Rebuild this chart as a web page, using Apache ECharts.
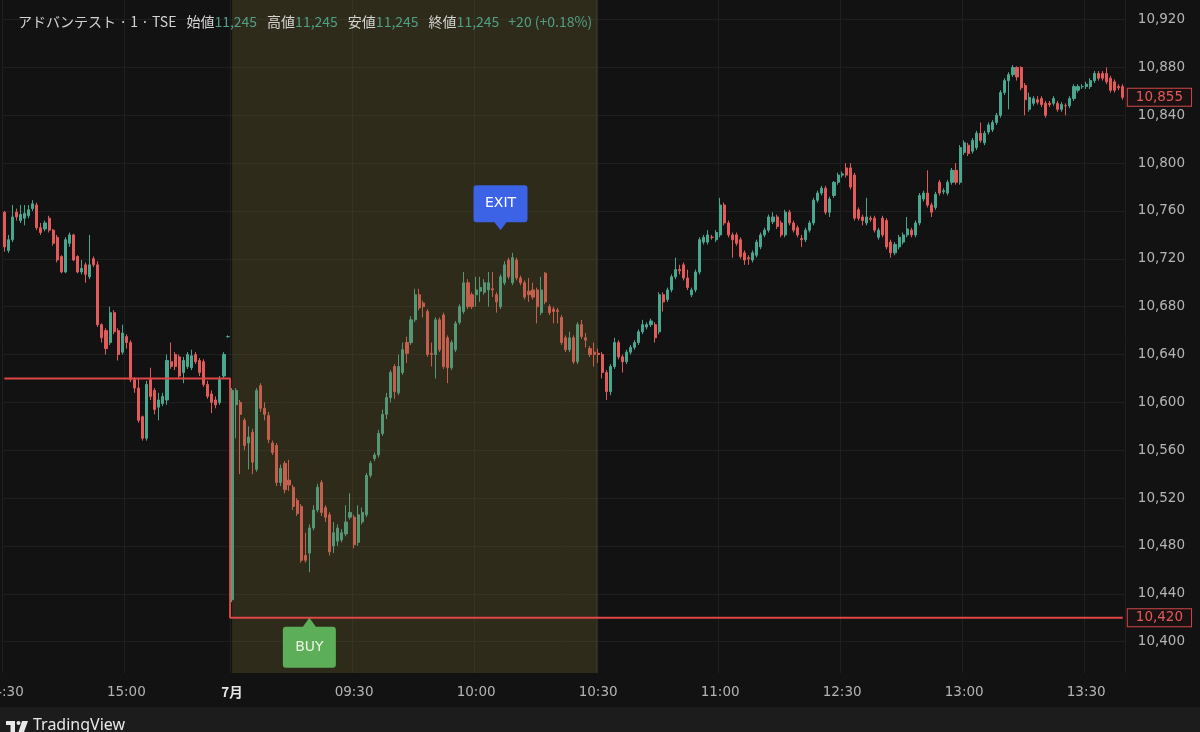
<!DOCTYPE html>
<html><head><meta charset="utf-8">
<script src="https://cdn.jsdelivr.net/npm/echarts@6/dist/echarts.min.js"></script>
<style>html,body{margin:0;padding:0;background:#121212;overflow:hidden}#c{width:1200px;height:732px}</style>
</head><body><div id="c"></div>
<script>
// ---- data: [open, high, low, close] per 1-minute bar ----
const day1Ohlc = [ // 14:30 - 15:25 (previous day)
[10759,10760,10726,10730],[10727,10740,10725,10736],[10736,10765,10734,10755],[10759,10762,10752,10755],
[10752,10765,10750,10757],[10754,10765,10748,10758],[10756,10765,10754,10761],[10762,10769,10760,10766],
[10765,10767,10744,10746],[10746,10750,10740,10742],[10745,10752,10743,10750],[10754,10756,10742,10744],
[10744,10745,10731,10733],[10738,10740,10717,10719],[10722,10723,10708,10709],[10709,10738,10708,10736],
[10733,10742,10730,10740],[10740,10741,10718,10719],[10722,10723,10708,10709],[10709,10719,10707,10712],
[10715,10717,10700,10707],[10705,10740,10703,10715],[10720,10722,10713,10715],[10715,10718,10663,10665],
[10665,10666,10650,10654],[10660,10662,10640,10645],[10650,10680,10648,10675],[10675,10677,10657,10659],
[10660,10662,10635,10640],[10642,10665,10640,10658],[10655,10657,10645,10650],[10650,10652,10617,10619],
[10619,10621,10608,10612],[10612,10620,10583,10585],[10588,10589,10568,10570],[10570,10618,10568,10615],
[10619,10629,10602,10605],[10610,10612,10590,10594],[10596,10608,10585,10602],[10599,10608,10597,10605],
[10602,10640,10598,10635],[10634,10650,10628,10630],[10640,10642,10627,10630],[10638,10640,10620,10622],
[10625,10638,10616,10635],[10630,10642,10628,10640],[10629,10644,10627,10639],[10640,10642,10632,10634],
[10635,10637,10622,10625],[10634,10636,10613,10615],[10615,10618,10603,10605],[10607,10610,10591,10600],
[10602,10605,10595,10598],[10600,10622,10598,10619],[10622,10642,10620,10640],[10655,10656,10654,10655]
];
const morningOhlc = [ // 09:00 - 11:29
[10435,10612,10433,10610],[10598,10612,10570,10610],[10600,10602,10540,10590],[10585,10587,10560,10564],
[10566,10580,10544,10571],[10575,10578,10540,10550],[10544,10612,10542,10610],[10614,10616,10592,10595],
[10595,10600,10585,10590],[10589,10592,10566,10569],[10566,10568,10556,10558],[10564,10566,10530,10533],
[10533,10548,10530,10545],[10549,10551,10524,10527],[10535,10552,10526,10531],[10529,10531,10510,10513],
[10518,10520,10505,10507],[10513,10515,10466,10468],[10472,10491,10466,10468],[10474,10498,10458,10495],
[10495,10514,10493,10510],[10510,10532,10508,10529],[10533,10535,10505,10508],[10512,10514,10500,10504],
[10506,10508,10472,10475],[10480,10500,10474,10491],[10484,10498,10480,10495],[10485,10494,10483,10491],
[10490,10514,10488,10500],[10504,10524,10502,10508],[10504,10506,10478,10481],[10483,10514,10480,10506],
[10500,10512,10498,10508],[10506,10541,10504,10539],[10539,10551,10537,10549],[10553,10558,10551,10556],
[10556,10577,10554,10574],[10574,10594,10572,10590],[10590,10608,10586,10604],[10604,10627,10600,10625],
[10630,10632,10603,10609],[10608,10640,10606,10630],[10625,10650,10623,10644],[10650,10655,10633,10641],
[10650,10672,10648,10669],[10669,10695,10667,10690],[10690,10695,10677,10679],[10683,10685,10671,10680],
[10676,10678,10638,10640],[10641,10650,10630,10640],[10640,10671,10620,10669],[10669,10671,10642,10644],
[10673,10675,10628,10630],[10654,10656,10616,10629],[10629,10652,10627,10650],[10644,10668,10642,10666],
[10667,10682,10665,10680],[10676,10709,10674,10700],[10700,10703,10678,10680],[10690,10692,10678,10680],
[10690,10705,10680,10694],[10693,10705,10684,10696],[10692,10703,10690,10700],[10694,10709,10680,10700],
[10695,10709,10688,10694],[10690,10692,10675,10684],[10680,10707,10678,10705],[10700,10718,10698,10715],
[10719,10721,10703,10705],[10700,10725,10698,10721],[10719,10721,10702,10704],[10704,10706,10698,10700],
[10700,10702,10686,10688],[10693,10704,10684,10690],[10694,10700,10686,10688],[10694,10696,10666,10680],
[10675,10705,10673,10694],[10708,10709,10682,10684],[10680,10682,10673,10675],[10678,10680,10666,10676],
[10677,10679,10666,10676],[10671,10673,10648,10650],[10654,10656,10642,10644],[10644,10659,10642,10654],
[10654,10656,10632,10634],[10634,10667,10632,10665],[10665,10669,10653,10655],[10654,10658,10646,10652],
[10645,10647,10638,10640],[10642,10650,10630,10640],[10641,10645,10633,10640],[10640,10642,10620,10625],
[10625,10627,10602,10609],[10609,10632,10606,10630],[10630,10654,10628,10650],[10650,10652,10636,10638],
[10638,10640,10625,10634],[10634,10644,10632,10642],[10642,10648,10640,10646],[10646,10652,10644,10650],
[10650,10661,10648,10659],[10659,10669,10657,10665],[10663,10667,10661,10665],[10665,10670,10663,10668],
[10665,10667,10650,10654],[10659,10692,10657,10690],[10690,10692,10676,10684],[10686,10696,10684,10694],
[10694,10707,10692,10705],[10705,10721,10703,10711],[10711,10715,10707,10710],[10715,10717,10702,10704],
[10704,10711,10694,10696],[10690,10696,10688,10694],[10694,10711,10692,10709],[10709,10738,10707,10736],
[10734,10740,10732,10738],[10734,10744,10732,10740],[10738,10740,10736,10738],[10736,10744,10734,10742],
[10740,10771,10738,10765],[10765,10767,10748,10750],[10750,10752,10738,10740],[10740,10742,10721,10736],
[10740,10742,10731,10733],[10736,10738,10720,10722],[10725,10727,10715,10719],[10721,10723,10715,10720],
[10719,10727,10717,10725],[10723,10736,10721,10734],[10730,10742,10728,10740],[10740,10746,10738,10744],
[10744,10757,10742,10755],[10751,10759,10749,10755],[10755,10757,10745,10747],[10750,10752,10738,10740],
[10740,10761,10738,10759],[10759,10761,10748,10750],[10750,10752,10742,10744],[10746,10748,10738,10740],
[10737,10740,10730,10736],[10736,10746,10734,10744],[10744,10752,10742,10750],[10750,10771,10748,10769],
[10769,10777,10767,10775],[10775,10781,10773,10779],[10779,10781,10757,10759],[10759,10772,10755,10770],
[10773,10785,10771,10784],[10784,10792,10782,10790]
];
const afternoonOhlc = [ // 12:30 - 13:39
[10790,10793,10788,10791],[10796,10800,10788,10790],[10796,10800,10778,10780],[10790,10792,10752,10754],
[10761,10763,10752,10754],[10755,10757,10748,10752],[10750,10771,10748,10755],[10754,10756,10751,10753],
[10754,10756,10742,10744],[10738,10746,10736,10744],[10754,10756,10738,10740],[10752,10754,10728,10730],
[10734,10736,10721,10725],[10725,10734,10723,10732],[10730,10740,10728,10738],[10734,10742,10732,10740],
[10740,10755,10738,10745],[10744,10746,10738,10740],[10740,10752,10738,10750],[10750,10775,10748,10773],
[10770,10777,10768,10775],[10775,10794,10763,10765],[10765,10767,10755,10759],[10763,10776,10761,10774],
[10784,10786,10773,10775],[10776,10779,10774,10777],[10775,10786,10773,10784],[10784,10796,10782,10794],
[10794,10800,10782,10784],[10784,10815,10782,10813],[10809,10819,10807,10817],[10815,10817,10806,10808],
[10810,10821,10808,10819],[10813,10827,10811,10825],[10825,10834,10817,10819],[10817,10827,10815,10825],
[10826,10834,10824,10832],[10828,10836,10826,10834],[10834,10842,10832,10840],[10840,10861,10838,10859],
[10859,10871,10857,10869],[10869,10876,10845,10874],[10874,10882,10872,10880],[10880,10881,10869,10872],
[10880,10881,10861,10863],[10865,10867,10840,10853],[10845,10859,10843,10855],[10850,10856,10848,10854],
[10853,10856,10849,10851],[10854,10856,10847,10849],[10850,10852,10838,10840],[10850,10852,10847,10849],
[10850,10856,10848,10854],[10850,10852,10843,10845],[10845,10851,10843,10849],[10848,10850,10840,10848],
[10848,10856,10846,10854],[10854,10866,10852,10864],[10861,10866,10859,10864],[10864,10866,10862,10864],
[10864,10868,10862,10866],[10864,10871,10862,10869],[10869,10877,10867,10875],[10875,10877,10869,10871],
[10875,10877,10869,10871],[10875,10880,10866,10868],[10871,10873,10859,10861],[10868,10870,10859,10861],
[10864,10866,10861,10863],[10864,10866,10853,10855]
];
const sessionStarts = ['14:30', '09:00', '12:30'];
const tickLabels = ['14:30', '15:00', '09:00', '09:30', '10:00', '10:30', '11:00', '12:30', '13:00', '13:30'];
const dayLabel = '7月';
const previousLevel = 10620;   // position line before the gap
const positionLevel = 10420;   // position line (BUY)
const highlightFrom = '09:00', highlightTo = '10:30';
const buyAt = '09:19', exitAt = '10:06', exitMarkerLevel = 10744;
const headerName = 'アドバンテスト · 1 · TSE';
const headerFields = [['始値', '11,245'], ['高値', '11,245'], ['安値', '11,245'], ['終値', '11,245']];
const headerChange = '+20 (+0.18%)';

// ---- build categories ----
const sessions = [day1Ohlc, morningOhlc, afternoonOhlc];
const categories = [];
sessions.forEach((s, k) => {
  const [h, m] = sessionStarts[k].split(':').map(Number);
  for (let i = 0; i < s.length; i++) {
    const t = h * 60 + m + i;
    categories.push(String(Math.floor(t / 60)).padStart(2, '0') + ':' + String(t % 60).padStart(2, '0'));
  }
});
const allOhlc = day1Ohlc.concat(morningOhlc, afternoonOhlc);
const candleData = allOhlc.map(([o, h, l, c]) => [o, c, l, h]);
const dayStartIndex = day1Ohlc.length;
const positionLine = categories.map((c, i) => i < dayStartIndex ? previousLevel : positionLevel);
const lastClose = allOhlc[allOhlc.length - 1][3];
const tickIdx = tickLabels.map((t, k) => k === 0 ? 0 : categories.indexOf(t, k >= 2 ? dayStartIndex : 0));
const fmt = v => String(Math.round(v)).replace(/\B(?=(\d{3})+(?!\d))/g, ',');

// ---- layout calibration ----
const UP = '#4aa78f', DOWN = '#e25a5a', BG = '#121212';
const plotLeft = 2.3, plotRight = 75.2;
const yMax = 10936.4, yMinData = 10373.75;

const chart = echarts.init(document.getElementById('c'), null, { renderer: 'canvas' });
const base = { fontSize: 14, fontFamily: 'Noto Sans CJK JP', fontWeight: 'normal' };
const rich = {
  nm: Object.assign({ color: '#d4d4d4' }, base),
  lb: Object.assign({ color: '#d4d4d4', padding: [0, 0, 0, 10] }, base),
  v: Object.assign({ color: '#4f9f86' }, base),
  ch: Object.assign({ color: '#4f9f86', padding: [0, 0, 0, 9] }, base)
};
const headerText = '{nm|' + headerName + '}' +
  headerFields.map(([a, b]) => '{lb|' + a + '}{v|' + b + '}').join('') + '{ch|' + headerChange + '}';

const exitPath = 'path://M3,0 H51 Q54,0 54,3 V34 Q54,37 51,37 H33 L27,45 L21,37 H3 Q0,37 0,34 V3 Q0,0 3,0 Z';
const buyPath = 'path://M26.5,0 L33,9 H50 Q53,9 53,12 V47 Q53,50 50,50 H3 Q0,50 0,47 V12 Q0,9 3,9 H20 Z';

chart.setOption({
  backgroundColor: BG,
  animation: false,
  title: { text: headerText, left: 13, top: 10, textStyle: { fontWeight: 'normal', rich } },
  grid: [
    { left: plotLeft, right: plotRight, top: 0, height: 673, outerBoundsMode: 'none', containLabel: false },
    { left: plotLeft, right: plotRight, top: 0, height: 689.45, outerBoundsMode: 'none', containLabel: false }
  ],
  xAxis: [
    {
      type: 'category', gridIndex: 0, data: categories, boundaryGap: true,
      axisLine: { show: false }, axisTick: { show: false },
      axisLabel: {
        interval: (i) => tickIdx.includes(i), margin: 12, color: '#b4b4b4', fontSize: 13.5,
        fontFamily: 'DejaVu Sans',
        formatter: (v, i) => i === dayStartIndex ? '{d|' + dayLabel + '}' : v,
        rich: { d: { color: '#e6e6e6', fontWeight: 'bold', fontSize: 13.5, fontFamily: 'Noto Sans CJK JP' } }
      },
      splitLine: { show: true, interval: (i) => tickIdx.includes(i), lineStyle: { color: '#1f1f1f', width: 1 } }
    },
    { type: 'category', gridIndex: 1, data: categories, show: false }
  ],
  yAxis: [
    { type: 'value', gridIndex: 0, min: yMinData, max: yMax, show: false },
    {
      type: 'value', gridIndex: 1, min: 10360, max: yMax, interval: 40, position: 'right',
      axisLine: { show: false }, axisTick: { show: false },
      axisLabel: { margin: 13, color: '#b4b4b4', fontSize: 13.5, fontFamily: 'DejaVu Sans',
        showMinLabel: false, showMaxLabel: false, formatter: v => fmt(v) },
      splitLine: { show: true, showMinLine: false, showMaxLine: false, lineStyle: { color: '#1f1f1f', width: 1 } }
    }
  ],
  series: [
    {
      type: 'candlestick', xAxisIndex: 0, yAxisIndex: 0, data: candleData, z: 2,
      barWidth: 2.6,
      itemStyle: { color: UP, color0: DOWN, borderColor: UP, borderColor0: DOWN, borderWidth: 1 },
      markLine: {
        silent: true, symbol: ['none', 'none'], z: 6,
        lineStyle: { color: 'rgba(0,0,0,0)', width: 0 },
        label: {
          show: true, position: 'end', distance: 3, formatter: p => fmt(p.value),
          color: '#e35a5a', backgroundColor: '#1a1212', borderColor: '#cf4747', borderWidth: 1,
          padding: [1, 8, 0, 8], fontSize: 13.5, fontFamily: 'DejaVu Sans', lineHeight: 16
        },
        data: [{ yAxis: lastClose }, { yAxis: positionLevel }]
      }
    },
    {
      type: 'line', xAxisIndex: 0, yAxisIndex: 0, data: [], z: 3,
      markArea: {
        silent: true, z: 3,
        itemStyle: { color: 'rgba(120,108,45,0.28)' },
        data: [[{ xAxis: highlightFrom, yAxis: yMax }, { xAxis: highlightTo, yAxis: yMinData }]]
      }
    },
    {
      type: 'line', xAxisIndex: 0, yAxisIndex: 0, data: positionLine, step: 'middle', z: 4,
      symbol: 'none', lineStyle: { color: '#e04646', width: 2 },
      markPoint: {
        silent: true, z: 7,
        data: [
          { coord: [buyAt, positionLevel], symbol: buyPath, symbolSize: [53, 50], symbolOffset: [0, 25],
            itemStyle: { color: '#5cae58' },
            label: { show: true, formatter: 'BUY', color: '#eaf5e4', fontSize: 14, fontFamily: 'DejaVu Sans', offset: [0, 4.5] } },
          { coord: [exitAt, exitMarkerLevel], symbol: exitPath, symbolSize: [54, 45], symbolOffset: [0, -22.5],
            itemStyle: { color: '#3c63e6' },
            label: { show: true, formatter: 'EXIT', color: '#ffffff', fontSize: 14, fontFamily: 'DejaVu Sans', offset: [0, -4] } }
        ]
      }
    }
  ],
  graphic: [
    { type: 'rect', left: 0, top: 707, shape: { width: 1200, height: 25 }, style: { fill: '#1c1c1c' }, silent: true },
    { type: 'rect', shape: { x: 6, y: 721, width: 9, height: 4 }, style: { fill: '#e8e8e8' } },
    { type: 'rect', shape: { x: 10.5, y: 721, width: 4.5, height: 11 }, style: { fill: '#e8e8e8' } },
    { type: 'circle', shape: { cx: 18.5, cy: 723, r: 2 }, style: { fill: '#e8e8e8' } },
    { type: 'polygon', shape: { points: [[22, 721], [28, 721], [24, 732], [18.5, 732]] }, style: { fill: '#e8e8e8' } },
    { type: 'text', left: 33, top: 717, style: { text: 'TradingView', fill: '#e8e8e8', font: '16px "Noto Sans"' } }
  ]
});
</script></body></html>
